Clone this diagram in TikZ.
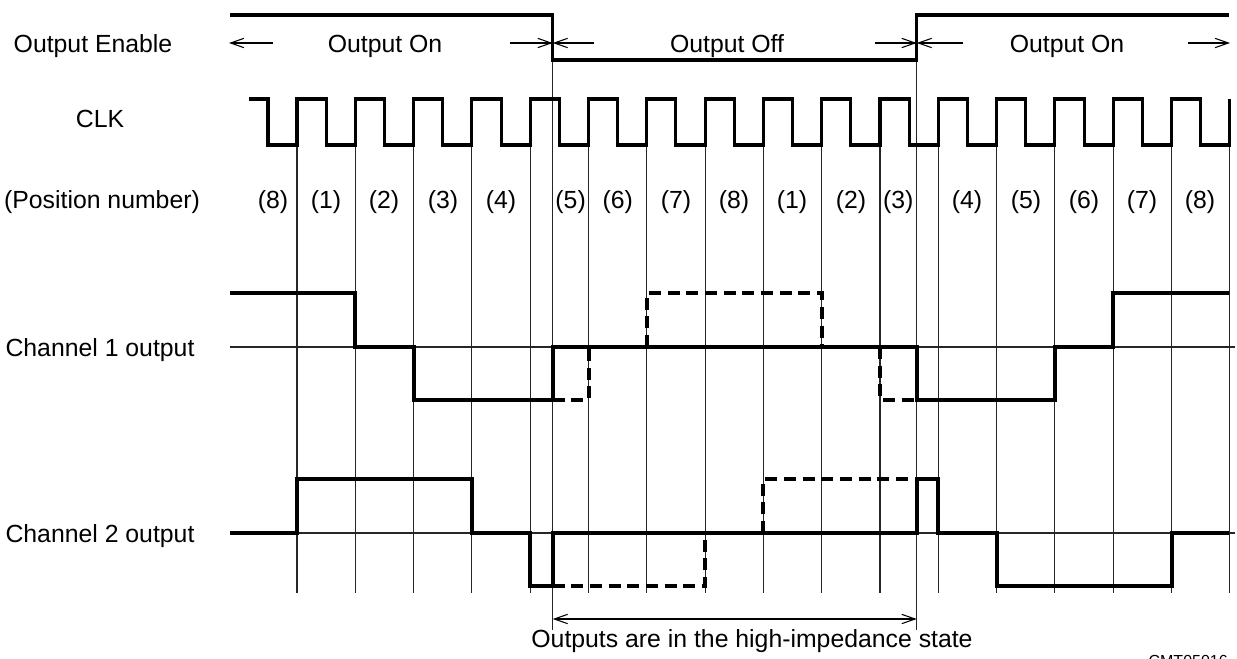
\documentclass[tikz,border=0pt]{standalone}
\usepackage{fontspec}
\setmainfont{Liberation Sans}
\usetikzlibrary{arrows.meta}
\tikzset{
  lbl/.style={font=\fontsize{18.6}{20}\selectfont, inner sep=0pt, anchor=base},
  sig/.style={line width=2.3pt, line join=miter, line cap=butt},
  chsig/.style={line width=3pt, line join=miter},
  chdash/.style={line width=3pt, dash pattern=on 9pt off 5pt},
  gridln/.style={line width=0.8pt, black!85},
  oearrow/.style={line width=0.8pt, -{Straight Barb[length=10pt,width=7pt,line width=0.8pt]}},
  bothar/.style={line width=0.8pt, {Straight Barb[length=10pt,width=7pt,line width=0.8pt]}-{Straight Barb[length=10pt,width=7pt,line width=0.8pt]}}
}
\begin{document}
\begin{tikzpicture}[x=0.75pt,y=-0.75pt]
\useasboundingbox (0,0) rectangle (1237,659);
\fill[white] (0,0) rectangle (1237,659);

% key x positions
\def\ea{552.7}
\def\eb{916.7}

% grid lines at CLK rising edges
\foreach \k in {0,...,16} {
  \pgfmathsetmacro\xx{297+58.3*\k}
  \draw[gridln] (\xx,145) -- (\xx,593);
}
% output-enable edge lines
\draw[gridln] (\ea,15) -- (\ea,630);
\draw[gridln] (\eb,15) -- (\eb,630);
% channel baselines
\draw[gridln] (230,347) -- (1235,347);
\draw[gridln] (230,533) -- (1235,533);

% labels on left
\node[lbl] (oe) at (93,53) {Output Enable};
\node[lbl] (clk) at (100,128) {CLK};
\node[lbl] (pos) at (102,209) {(Position number)};
\node[lbl] (ch1) at (100,356) {Channel 1 output};
\node[lbl] (ch2) at (100,542) {Channel 2 output};

% Output enable waveform
\draw[sig] (230,15) -- (\ea,15) -- (\ea,60) -- (\eb,60) -- (\eb,15) -- (1229,15);

% OE labels and arrows
\node[lbl] (on1) at (385,53) {Output On};
\node[lbl] (off) at (727,53) {Output Off};
\node[lbl] (on2) at (1067,53) {Output On};
\coordinate (a1s) at (273,43); \coordinate (a1e) at (229,43);
\coordinate (a2s) at (510,43); \coordinate (a2e) at (\ea,43);
\coordinate (a3s) at (594,43); \coordinate (a3e) at (\ea,43);
\coordinate (a4s) at (875,43); \coordinate (a4e) at (\eb,43);
\coordinate (a5s) at (963,43); \coordinate (a5e) at (\eb,43);
\coordinate (a6s) at (1188,43); \coordinate (a6e) at (1230,43);
\foreach \i in {1,...,6} { \draw[oearrow] (a\i s) -- (a\i e); }

% CLK waveform
\draw[sig] (249,99) -- (268,99) -- (268,145)
  foreach \k in {0,...,15} {
    -- ({297+58.3*\k},145) -- ({297+58.3*\k},99)
    -- ({326.15+58.3*\k},99) -- ({326.15+58.3*\k},145)
  } -- (1229.8,145) -- (1229.8,99);

% Position numbers
\foreach \x/\t in {273/8,326/1,384/2,443/3,501/4,570.6/5,617.7/6,676/7,734/8,792/1,851/2,898.3/3,967/4,1026/5,1084/6,1142/7,1200/8} {
  \node[lbl] at (\x,209) {(\t)};
}

% Channel 1 (H=293, M=347, L=400)
\draw[chsig] (230,293) -- (355.3,293) -- (355.3,347) -- (413.6,347) -- (413.6,400)
  -- (\ea,400) -- (\ea,347) -- (\eb,347) -- (\eb,400) -- (1055,400) -- (1055,347)
  -- (1113.2,347) -- (1113.2,293) -- (1229,293);
\draw[chdash] (\ea,400) -- (588.5,400) -- (588.5,347);
\draw[chdash] (647,347) -- (647,293) -- (821.7,293) -- (821.7,347);
\draw[chdash] (880,347) -- (880,400) -- (\eb,400);

% Channel 2 (H=479, M=533, L=586)
\draw[chsig] (230,533) -- (297,533) -- (297,479) -- (472,479) -- (472,533)
  -- (530.2,533) -- (530.2,586) -- (\ea,586) -- (\ea,533) -- (\eb,533) -- (\eb,479)
  -- (938.3,479) -- (938.3,533) -- (996.6,533) -- (996.6,586) -- (1171.5,586)
  -- (1171.5,533) -- (1229,533);
\draw[chdash] (\ea,586) -- (705.1,586) -- (705.1,533);
\draw[chdash] (763.4,533) -- (763.4,479) -- (\eb,479);

% high-impedance span
\coordinate (hz1) at (\ea,619);
\coordinate (hz2) at (\eb,619);
\draw[bothar] (hz1) -- (hz2);
\node[lbl] (hz) at (752,647) {Outputs are in the high-impedance state};

% figure code (cut at the bottom edge, as in the reference)
\node[font=\fontsize{12}{14}\selectfont, inner sep=0pt, anchor=north east] (code) at (1228,655) {CMT05016};
\end{tikzpicture}
\end{document}
